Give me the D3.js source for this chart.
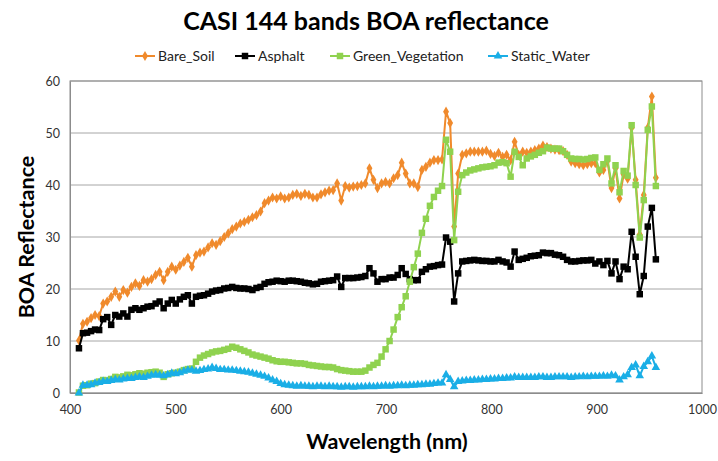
<!DOCTYPE html>
<html>
<head>
<meta charset="utf-8">
<script src="https://cdn.jsdelivr.net/npm/d3@7"></script>
<style>
  body { margin: 0; background: #fff; }
  text { font-family: Lato, "Open Sans", sans-serif; }
</style>
</head>
<body>
<div id="chart"></div>
<script>
// band centres (nm)
const wavelengths = [
  408.5, 412.3, 416.2, 420.0, 423.8, 427.7, 431.5, 435.3, 439.1, 443.0,
  446.8, 450.6, 454.5, 458.3, 462.1, 465.9, 469.8, 473.6, 477.4, 481.3,
  485.1, 488.9, 492.8, 496.6, 500.4, 504.3, 508.1, 511.9, 515.7, 519.6,
  523.4, 527.2, 531.1, 534.9, 538.7, 542.6, 546.4, 550.2, 554.0, 557.9,
  561.7, 565.5, 569.4, 573.2, 577.0, 580.9, 584.7, 588.5, 592.3, 596.2,
  600.0, 603.8, 607.7, 611.5, 615.3, 619.2, 623.0, 626.8, 630.6, 634.5,
  638.3, 642.1, 646.0, 649.8, 653.6, 657.5, 661.3, 665.1, 668.9, 672.8,
  676.6, 680.4, 684.3, 688.1, 691.9, 695.8, 699.6, 703.4, 707.2, 711.1,
  714.9, 718.7, 722.6, 726.4, 730.2, 734.1, 737.9, 741.7, 745.5, 749.4,
  753.2, 757.0, 760.9, 764.7, 768.5, 772.4, 776.2, 780.0, 783.8, 787.7,
  791.5, 795.3, 799.2, 803.0, 806.8, 810.7, 814.5, 818.3, 822.1, 826.0,
  829.8, 833.6, 837.5, 841.3, 845.1, 849.0, 852.8, 856.6, 860.4, 864.3,
  868.1, 871.9, 875.8, 879.6, 883.4, 887.3, 891.1, 894.9, 898.7, 902.6,
  906.4, 910.2, 914.1, 917.9, 921.7, 925.6, 929.4, 933.2, 937.0, 940.9,
  944.7, 948.5, 952.4, 956.2
];

const bareSoil = [
  10.1, 13.3, 13.7, 14.4, 15.0, 14.8, 17.2, 17.6, 18.5, 19.5,
  18.5, 19.8, 19.3, 20.4, 21.1, 20.6, 21.7, 21.4, 21.9, 22.7,
  23.3, 21.7, 23.3, 24.3, 23.7, 24.5, 25.2, 26.0, 24.3, 26.5,
  27.0, 27.2, 28.0, 28.8, 28.5, 29.2, 30.0, 30.7, 31.5, 32.0,
  32.6, 32.9, 33.3, 33.8, 34.2, 34.9, 36.5, 37.0, 37.6, 37.4,
  37.8, 37.4, 37.6, 38.1, 38.3, 37.9, 38.3, 38.1, 37.6, 37.6,
  38.2, 38.6, 38.9, 39.0, 40.3, 37.0, 39.8, 39.5, 39.7, 39.8,
  40.0, 40.3, 43.2, 41.0, 39.4, 40.3, 40.6, 40.3, 41.3, 41.9,
  44.3, 42.2, 40.3, 40.3, 39.6, 42.9, 43.5, 44.3, 44.8, 44.8,
  44.9, 54.1, 51.9, 32.0, 42.2, 45.8, 46.1, 46.4, 46.4, 46.4,
  46.4, 46.6, 46.0, 45.6, 46.2, 45.4, 45.8, 44.8, 48.3, 45.8,
  46.4, 46.2, 46.4, 46.7, 47.0, 47.6, 47.3, 47.0, 46.8, 46.7,
  46.5, 45.8, 44.5, 44.2, 44.0, 43.8, 44.0, 44.2, 44.2, 42.4,
  42.9, 44.6, 39.4, 43.2, 37.4, 42.0, 41.2, 51.0, 41.0, 30.5,
  38.1, 51.0, 57.0, 41.4
];

const asphalt = [
  8.6, 11.5, 11.6, 11.9, 12.2, 12.1, 14.2, 14.6, 13.1, 15.0,
  14.7, 15.3, 14.7, 16.0, 16.3, 16.0, 16.3, 16.6, 16.7, 17.2,
  17.6, 16.3, 17.2, 17.9, 17.2, 18.0, 18.5, 18.8, 17.2, 18.5,
  18.7, 18.8, 19.1, 19.5, 19.7, 19.8, 20.1, 20.2, 20.4, 20.2,
  20.1, 20.1, 20.0, 19.8, 20.2, 20.4, 21.0, 21.3, 21.4, 21.6,
  21.5, 21.4, 21.6, 21.6, 21.5, 21.4, 21.2, 21.1, 20.9, 21.0,
  21.4, 21.5, 21.6, 21.7, 22.4, 20.4, 22.1, 22.1, 22.1, 22.2,
  22.3, 22.5, 24.0, 23.0, 21.4, 21.9, 21.9, 22.2, 22.2, 22.7,
  24.0, 22.9, 21.9, 21.7, 21.7, 23.3, 23.8, 24.3, 24.4, 24.6,
  24.7, 29.9, 29.1, 17.6, 23.0, 25.3, 25.4, 25.5, 25.6, 25.5,
  25.4, 25.4, 25.3, 25.3, 25.6, 25.3, 25.1, 24.3, 27.2, 25.6,
  25.8, 26.0, 26.3, 26.4, 26.5, 27.0, 26.9, 26.9, 26.6, 26.5,
  26.2, 25.6, 25.3, 25.3, 25.4, 25.5, 25.5, 25.6, 24.9, 25.3,
  24.6, 25.4, 23.0, 25.3, 21.9, 24.3, 23.8, 31.0, 26.2, 19.0,
  22.5, 32.0, 35.6, 25.7
];

const greenVegetation = [
  0.1, 1.4, 1.5, 1.8, 1.9, 2.2, 2.5, 2.4, 2.7, 3.1,
  3.0, 3.2, 3.5, 3.4, 3.6, 3.8, 3.7, 3.9, 4.0, 4.1,
  3.9, 3.1, 3.6, 3.8, 3.9, 4.1, 4.4, 4.6, 4.7, 6.0,
  6.8, 7.2, 7.5, 7.8, 8.0, 8.1, 8.3, 8.5, 8.9, 8.7,
  8.4, 8.1, 7.8, 7.4, 7.2, 7.0, 6.8, 6.6, 6.3, 6.1,
  6.0, 6.0, 5.9, 5.8, 5.7, 5.7, 5.6, 5.4, 5.3, 5.2,
  5.1, 5.0, 5.0, 4.9, 4.6, 4.4, 4.3, 4.2, 4.1, 4.1,
  4.1, 4.3, 4.9, 5.4, 5.8, 7.0, 8.4, 10.0, 12.2, 14.6,
  16.5, 18.6, 21.4, 24.2, 26.8, 30.8, 33.5, 36.0, 37.7, 38.9,
  39.8, 48.7, 46.4, 29.4, 38.7, 41.9, 42.4, 42.8, 43.0, 43.2,
  43.4, 43.5, 43.6, 43.8, 44.3, 44.4, 44.2, 41.6, 46.4, 45.4,
  43.8, 45.1, 45.5, 45.8, 46.2, 46.5, 47.2, 47.0, 47.0, 47.0,
  46.5, 45.8, 45.1, 45.0, 45.0, 44.9, 45.0, 45.2, 45.3, 42.9,
  44.0, 45.1, 40.3, 43.8, 38.6, 42.7, 41.8, 51.5, 40.0, 29.9,
  37.1, 50.6, 55.1, 39.8
];

const staticWater = [
  0.0, 1.5, 1.5, 1.6, 1.9, 2.0, 2.2, 2.2, 2.4, 2.6,
  2.5, 2.7, 2.8, 2.8, 3.0, 3.1, 3.0, 3.2, 3.4, 3.5,
  3.4, 3.3, 3.5, 3.8, 3.7, 3.9, 4.2, 4.4, 4.4, 4.2,
  4.3, 4.5, 4.6, 4.9, 4.7, 4.5, 4.5, 4.4, 4.4, 4.3,
  4.2, 4.1, 4.0, 3.8, 3.6, 3.4, 3.2, 2.9, 2.5, 2.2,
  1.8, 1.6, 1.5, 1.4, 1.3, 1.4, 1.3, 1.3, 1.2, 1.3,
  1.3, 1.2, 1.3, 1.2, 1.2, 1.1, 1.2, 1.2, 1.1, 1.2,
  1.2, 1.2, 1.3, 1.2, 1.3, 1.3, 1.4, 1.3, 1.4, 1.4,
  1.5, 1.4, 1.5, 1.5, 1.6, 1.6, 1.7, 1.7, 1.8, 1.9,
  1.9, 3.5, 2.6, 1.2, 2.2, 2.3, 2.4, 2.4, 2.5, 2.5,
  2.6, 2.6, 2.7, 2.7, 2.8, 2.8, 2.9, 2.9, 3.1, 3.0,
  3.0, 3.0, 3.0, 3.0, 3.1, 3.1, 3.0, 3.0, 3.1, 3.1,
  3.1, 3.1, 3.0, 3.1, 3.1, 3.2, 3.1, 3.2, 3.2, 3.2,
  3.3, 3.2, 3.4, 3.3, 2.5, 3.1, 3.5, 4.9, 5.4, 3.3,
  5.1, 6.0, 7.1, 4.9
];

const seriesNames = ["Bare_Soil", "Asphalt", "Green_Vegetation", "Static_Water"];
const xTicks = [400, 500, 600, 700, 800, 900, 1000];
const yTicks = [0, 10, 20, 30, 40, 50, 60];

const width = 718, height = 461;
const margin = { top: 81, right: 16, bottom: 68, left: 70 };

const svg = d3.select("#chart").append("svg")
    .attr("width", width)
    .attr("height", height);

const x = d3.scaleLinear().domain([400, 1000]).range([margin.left, width - margin.right]);
const y = d3.scaleLinear().domain([0, 60]).range([height - margin.bottom, margin.top]);

// gridlines
svg.append("g")
    .selectAll("line")
    .data(yTicks)
    .join("line")
    .attr("x1", x(400)).attr("x2", x(1000))
    .attr("y1", d => y(d)).attr("y2", d => y(d))
    .attr("stroke", "#a6a6a6")
    .attr("stroke-width", 1);

// plot frame
svg.append("rect")
    .attr("x", x(400)).attr("y", y(60))
    .attr("width", x(1000) - x(400))
    .attr("height", y(0) - y(60))
    .attr("fill", "none")
    .attr("stroke", "#8c8c8c")
    .attr("stroke-width", 1);

// axes
const xAxis = svg.append("g")
    .attr("transform", `translate(0,${y(0)})`)
    .call(d3.axisBottom(x).tickValues(xTicks).tickFormat(d3.format("d")).tickSize(0).tickPadding(12));
xAxis.select(".domain").attr("stroke", "#8c8c8c");
xAxis.selectAll("text").style("font-size", "12.5px").attr("fill", "#333");

const yAxis = svg.append("g")
    .attr("transform", `translate(${x(400)},0)`)
    .call(d3.axisLeft(y).tickValues(yTicks).tickSize(0).tickPadding(10));
yAxis.select(".domain").attr("stroke", "#8c8c8c");
yAxis.selectAll("text").style("font-size", "12.5px").attr("fill", "#333");

// titles
svg.append("text")
    .attr("x", 366).attr("y", 30)
    .attr("text-anchor", "middle")
    .style("font-size", "25px").style("font-weight", "bold")
    .text("CASI 144 bands BOA reflectance");

svg.append("text")
    .attr("x", 387).attr("y", 449)
    .attr("text-anchor", "middle")
    .style("font-size", "21.5px").style("font-weight", "bold")
    .text("Wavelength (nm)");

svg.append("text")
    .attr("transform", `translate(34,${(y(0) + y(60)) / 2}) rotate(-90)`)
    .attr("text-anchor", "middle")
    .style("font-size", "21.5px").style("font-weight", "bold")
    .text("BOA Reflectance");

// series
const series = [
  { name: seriesNames[0], values: bareSoil, color: "#f08a2c", symbol: d3.symbolDiamond, size: 30 },
  { name: seriesNames[1], values: asphalt, color: "#000000", symbol: d3.symbolSquare, size: 42 },
  { name: seriesNames[2], values: greenVegetation, color: "#8fd24f", symbol: d3.symbolSquare, size: 42 },
  { name: seriesNames[3], values: staticWater, color: "#1aaee6", symbol: d3.symbolTriangle, size: 32 }
];

const line = d3.line()
    .x(d => x(d[0]))
    .y(d => y(d[1]));

series.forEach(s => {
    const pts = wavelengths.map((w, i) => [w, s.values[i]]);
    const g = svg.append("g");
    g.append("path")
        .datum(pts)
        .attr("fill", "none")
        .attr("stroke", s.color)
        .attr("stroke-width", 2)
        .attr("stroke-linejoin", "round")
        .attr("d", line);
    g.selectAll("path.m")
        .data(pts)
        .join("path")
        .attr("class", "m")
        .attr("transform", d => `translate(${x(d[0])},${y(d[1])})`)
        .attr("d", d3.symbol().type(s.symbol).size(s.size))
        .attr("fill", s.color);
});

// legend
const legendX = [135, 235, 330, 488];
const legend = svg.append("g");
series.forEach((s, i) => {
    const lg = legend.append("g").attr("transform", `translate(${legendX[i]},56)`);
    lg.append("line")
        .attr("x1", 0).attr("x2", 20)
        .attr("stroke", s.color).attr("stroke-width", 2);
    lg.append("path")
        .attr("transform", "translate(10,0)")
        .attr("d", d3.symbol().type(s.symbol).size(s.size))
        .attr("fill", s.color);
    lg.append("text")
        .attr("x", 23).attr("y", 5)
        .style("font-size", "14px")
        .attr("fill", "#222")
        .text(s.name);
});
</script>
</body>
</html>
